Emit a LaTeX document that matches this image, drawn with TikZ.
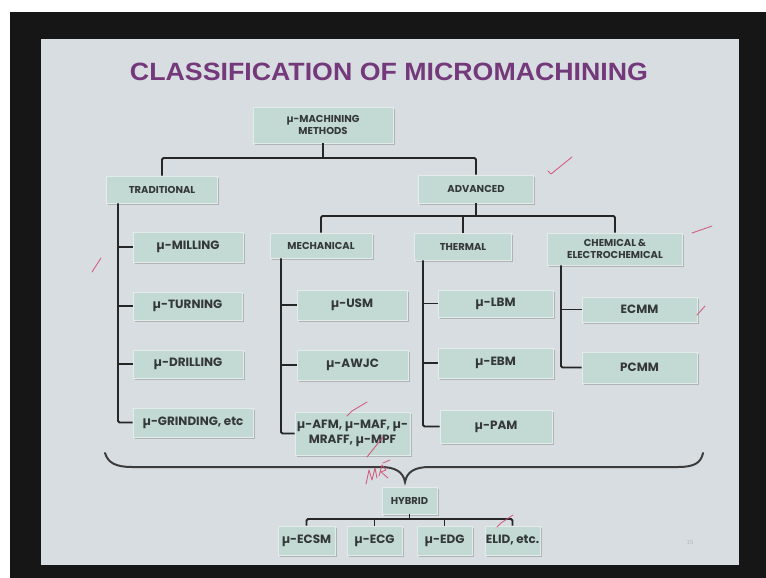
\documentclass[tikz,border=0pt]{standalone}
\usepackage{fontspec}
\usetikzlibrary{shadows}
\setmainfont{Liberation Sans}
\newfontfamily\boxfont{Poppins}

\definecolor{slidebg}{HTML}{D8DDE2}
\definecolor{framecol}{HTML}{161616}
\definecolor{boxfill}{HTML}{C3D9D3}
\definecolor{boxedge}{HTML}{E3ECE9}
\definecolor{boxtext}{HTML}{343838}
\definecolor{titlepurple}{HTML}{74397A}
\definecolor{ink}{HTML}{262626}
\definecolor{pen}{HTML}{D04A6C}

\begin{document}
\begin{tikzpicture}[x=1pt,y=-1pt,
  cbox/.style={draw=boxedge, line width=0.6pt, fill=boxfill, text=boxtext,
    align=center, inner sep=0pt,
    drop shadow={shadow xshift=1.6pt, shadow yshift=-1.6pt, fill=black!50, opacity=0.45}},
  catfont/.style={font=\boxfont\bfseries\fontsize{10}{12}\selectfont},
  leaffont/.style={font=\boxfont\bfseries\fontsize{12}{15}\selectfont},
  conn/.style={draw=ink, line width=1.8pt, rounded corners=1.5pt},
  bracestyle/.style={draw=ink!90, line width=2pt, line cap=round},
  pen/.style={draw=pen, line width=0.9pt, line cap=round, line join=round, opacity=0.85}]

% projector frame and slide
\useasboundingbox (0,0) rectangle (766,578);
\fill[white] (0,0) rectangle (766,578);
\fill[framecol] (10,12) rectangle (766,578);
\fill[slidebg] (41,39) rectangle (739,565);

% title
\node[font=\bfseries\fontsize{25}{28}\selectfont, text=titlepurple] (title) at (389,72)
  {\scalebox{1.07}[1]{CLASSIFICATION OF MICROMACHINING}};

% first levels
\node[cbox, catfont, minimum width=140, minimum height=36] (root) at (323,125) {µ-MACHINING\\METHODS};
\node[cbox, catfont, minimum width=111, minimum height=27] (trad) at (162,189.5) {TRADITIONAL};
\node[cbox, catfont, minimum width=115, minimum height=28] (adv) at (476,189) {ADVANCED};
\node[cbox, catfont, minimum width=102, minimum height=25] (mech) at (321,245.5) {MECHANICAL};
\node[cbox, catfont, minimum width=97, minimum height=27] (therm) at (463,246.5) {THERMAL};
\node[cbox, catfont, minimum width=135, minimum height=32] (chem) at (615,249) {CHEMICAL \&\\ELECTROCHEMICAL};

% traditional processes
\node[cbox, leaffont, minimum width=110, minimum height=30] (mill) at (188,247) {µ-MILLING};
\node[cbox, leaffont, minimum width=109, minimum height=28] (turn) at (187.5,306) {µ-TURNING};
\node[cbox, leaffont, minimum width=110, minimum height=28] (drill) at (188,364) {µ-DRILLING};
\node[cbox, leaffont, minimum width=120, minimum height=29] (grind) at (193,422.5) {µ-GRINDING, etc};

% mechanical processes
\node[cbox, leaffont, minimum width=110, minimum height=30] (usm) at (352,305) {µ-USM};
\node[cbox, leaffont, minimum width=111, minimum height=30] (awjc) at (352.5,365) {µ-AWJC};
\node[cbox, leaffont, minimum width=115, minimum height=43] (afm) at (352.5,433.5) {µ-AFM, µ-MAF, µ-\\MRAFF, µ-MPF};

% thermal processes
\node[cbox, leaffont, minimum width=115, minimum height=27] (lbm) at (495.5,303.5) {µ-LBM};
\node[cbox, leaffont, minimum width=115, minimum height=30] (ebm) at (495.5,363) {µ-EBM};
\node[cbox, leaffont, minimum width=112, minimum height=33] (pam) at (496,426.5) {µ-PAM};

% chemical and electrochemical processes
\node[cbox, leaffont, minimum width=115, minimum height=25] (ecmm) at (639.5,309.5) {ECMM};
\node[cbox, leaffont, minimum width=115, minimum height=31] (pcmm) at (639.5,367.5) {PCMM};

% hybrid processes
\node[cbox, catfont, minimum width=55, minimum height=27] (hybrid) at (409.5,500.5) {HYBRID};
\node[cbox, leaffont, minimum width=57, minimum height=29] (ecsm) at (306.5,540.5) {µ-ECSM};
\node[cbox, leaffont, minimum width=55, minimum height=29] (ecg) at (374.5,540.5) {µ-ECG};
\node[cbox, leaffont, minimum width=55, minimum height=29] (edg) at (444.5,540.5) {µ-EDG};
\node[cbox, leaffont, minimum width=55, minimum height=29] (elid) at (512.5,540.5) {ELID, etc.};

% junction points and trunk lines
\coordinate (rootjoin) at (323,158);
\coordinate (advjoin) at (476,216);
\coordinate (hybjoin) at (409.5,519);
\coordinate (tradtrunk) at (118,0);
\coordinate (mechtrunk) at (281,0);
\coordinate (thermtrunk) at (423,0);
\coordinate (chemtrunk) at (561,0);

% tree connectors
\draw[conn] (root.south) -- (rootjoin);
\draw[conn] (trad.north) |- (rootjoin) -| (adv.north);
\draw[conn] (adv.south) -- (advjoin);
\draw[conn] (mech.north) |- (advjoin) -| (chem.north);
\draw[conn] (therm.north) -- (therm.north |- advjoin);

\draw[conn] (trad.south -| tradtrunk) |- (grind.west);
\foreach \n in {mill,turn,drill} \draw[conn] (\n.west) -- (\n.west -| tradtrunk);
\draw[conn] (mech.south -| mechtrunk) |- (afm.west);
\foreach \n in {usm,awjc} \draw[conn] (\n.west) -- (\n.west -| mechtrunk);
\draw[conn] (therm.south -| thermtrunk) |- (pam.west);
\foreach \n in {lbm,ebm} \draw[conn] (\n.west) -- (\n.west -| thermtrunk);
\draw[conn] (chem.south -| chemtrunk) |- (pcmm.west);
\draw[conn] (ecmm.west) -- (ecmm.west -| chemtrunk);

\draw[conn] (hybrid.south) -- (hybjoin);
\draw[conn] (ecsm.north) |- (hybjoin) -| (elid.north);
\foreach \n in {ecg,edg} \draw[conn] (\n.north) -- (\n.north |- hybjoin);

% curly brace gathering all groups into the hybrid class
\draw[bracestyle] (105,453) .. controls (108,463) and (116,467) .. (132,467)
  -- (380,467) .. controls (396,467) and (403,472) .. (405,482)
  .. controls (407,472) and (414,467) .. (430,467)
  -- (678,467) .. controls (694,467) and (701,463) .. (703,453);

% pen marks
\draw[pen] (548,171) -- (551,174) -- (572,157);
\draw[pen] (692,233) -- (712,226);
\draw[pen] (92,272) -- (101,258);
\draw[pen] (697,315) -- (705,306);
\draw[pen] (347,416) -- (352,411) -- (367,402);
\draw[pen] (367,457) -- (383,437);
\draw[pen] (497,527) -- (501,523) -- (513,515);
\draw[pen] (366,484) -- (369,470) -- (372,480) -- (375,468) -- (377,478);
\draw[pen] (379,476) -- (382,465) -- (386,470) -- (381,472) -- (388,478);
\draw[pen] (383,463) -- (390,460);

% slide number
\node[text=black!28, font=\fontsize{6}{7}\selectfont] (pagenum) at (690,542) {15};
\end{tikzpicture}
\end{document}
